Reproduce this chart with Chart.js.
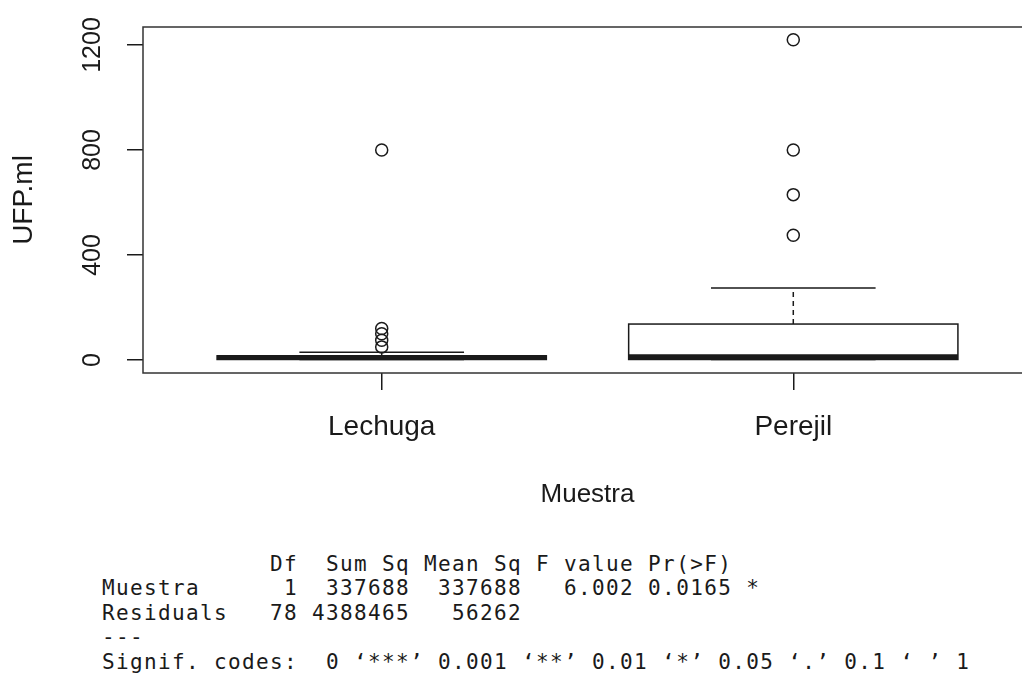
<!DOCTYPE html>
<html>
<head>
<meta charset="utf-8">
<script src="https://cdn.jsdelivr.net/npm/chart.js@4.4.1/dist/chart.umd.min.js"></script>
<style>
  html, body { margin: 0; padding: 0; background: #fff; overflow: hidden; width: 1022px; height: 681px; }
  #wrap { position: absolute; left: 0; top: 0; width: 1040px; height: 530px; }
  #anova {
    position: absolute; left: 102px; top: 552px; margin: 0;
    font-family: "DejaVu Sans Mono", monospace; font-size: 21px;
    letter-spacing: 1.36px; line-height: 24.4px; color: #1a1a1a; white-space: pre;
  }
</style>
</head>
<body>
<div id="wrap"><canvas id="boxChart" width="1040" height="530"></canvas></div>
<pre id="anova"></pre>
<script>
// Datos del boxplot (UFP.ml por muestra)
const categorias = ['Lechuga', 'Perejil'];
const bigoteInf = [2, 2];
const cuartil1 = [2, 2];
const mediana = [10, 12];
const cuartil3 = [16, 137];
const bigoteSup = [30, 274];
const atipicosLechuga = [50, 75, 100, 120, 800];
const atipicosPerejil = [475, 630, 800, 1220];
const ticksY = [0, 200, 400, 600, 800, 1000, 1200];
const etiquetasY = [0, 400, 800, 1200];

// Tabla ANOVA
const filasAnova = [
  '            Df  Sum Sq Mean Sq F value Pr(>F)',
  'Muestra      1  337688  337688   6.002 0.0165 *',
  'Residuals   78 4388465   56262',
  '---',
  'Signif. codes:  0 \u2018***\u2019 0.001 \u2018**\u2019 0.01 \u2018*\u2019 0.05 \u2018.\u2019 0.1 \u2018 \u2019 1'
];
document.getElementById('anova').textContent = filasAnova.join('\n');

const tinta = '#1a1a1a';
Chart.defaults.font.family = '"Liberation Sans", Arial, sans-serif';
Chart.defaults.color = tinta;

// Cajas, bigotes y marco al estilo de R
const cajasPlugin = {
    id: 'cajas',
    beforeDatasetsDraw(chart) {
        const { ctx, scales: { x, y } } = chart;
        ctx.save();
        ctx.strokeStyle = tinta;
        categorias.forEach((cat, i) => {
            const pos = i + 1;
            const xl = x.getPixelForValue(pos - 0.4);
            const xr = x.getPixelForValue(pos + 0.4);
            const xc = x.getPixelForValue(pos);
            const cl = x.getPixelForValue(pos - 0.2);
            const cr = x.getPixelForValue(pos + 0.2);
            const yq1 = y.getPixelForValue(cuartil1[i]);
            const yq3 = y.getPixelForValue(cuartil3[i]);
            const ymed = y.getPixelForValue(mediana[i]);
            const yinf = y.getPixelForValue(bigoteInf[i]);
            const ysup = y.getPixelForValue(bigoteSup[i]);

            // bigotes punteados
            ctx.lineWidth = 1.5;
            ctx.setLineDash([5, 4]);
            ctx.beginPath();
            ctx.moveTo(xc, yq3); ctx.lineTo(xc, ysup);
            ctx.moveTo(xc, yq1); ctx.lineTo(xc, yinf);
            ctx.stroke();
            ctx.setLineDash([]);

            // topes
            ctx.beginPath();
            ctx.moveTo(cl, ysup); ctx.lineTo(cr, ysup);
            ctx.moveTo(cl, yinf); ctx.lineTo(cr, yinf);
            ctx.stroke();

            // caja
            ctx.fillStyle = '#fff';
            ctx.fillRect(xl, yq3, xr - xl, yq1 - yq3);
            ctx.strokeRect(xl, yq3, xr - xl, yq1 - yq3);

            // mediana
            ctx.lineWidth = 5;
            ctx.beginPath();
            ctx.moveTo(xl, ymed); ctx.lineTo(xr, ymed);
            ctx.stroke();
        });
        ctx.restore();
    },
    afterDraw(chart) {
        const { ctx, chartArea: a } = chart;
        ctx.save();
        ctx.strokeStyle = '#333';
        ctx.lineWidth = 1.5;
        ctx.strokeRect(a.left, a.top, a.right - a.left, a.bottom - a.top);
        ctx.restore();
    }
};

const puntos = (pos, valores) => valores.map(v => ({ x: pos, y: v }));

const ctx = document.getElementById('boxChart').getContext('2d');
new Chart(ctx, {
    type: 'scatter',
    data: {
        datasets: [
            { data: puntos(1, atipicosLechuga) },
            { data: puntos(2, atipicosPerejil) }
        ]
    },
    options: {
        responsive: false,
        animation: false,
        layout: { padding: { left: 0, top: 27, right: 8, bottom: 0 } },
        elements: {
            point: { radius: 6, borderWidth: 1.5, borderColor: tinta, backgroundColor: 'rgba(0,0,0,0)' }
        },
        plugins: { legend: { display: false }, tooltip: { enabled: false } },
        scales: {
            x: {
                type: 'linear',
                min: 0.42,
                max: 2.58,
                afterBuildTicks: s => { s.ticks = categorias.map((c, i) => ({ value: i + 1 })); },
                afterFit: s => { s.height = 157; },
                grid: { drawOnChartArea: false, drawTicks: true, tickLength: 17, color: tinta, lineWidth: 1.5 },
                border: { display: false },
                ticks: {
                    callback: v => categorias[v - 1],
                    font: { size: 28 },
                    padding: 20,
                    maxRotation: 0
                },
                title: { display: true, text: 'Muestra', font: { size: 26 }, padding: { top: 0, bottom: 20 } }
            },
            y: {
                min: -49.5,
                max: 1268.6,
                afterBuildTicks: s => { s.ticks = ticksY.map(v => ({ value: v })); },
                afterFit: s => { s.width = 143; },
                grid: { drawOnChartArea: false, drawTicks: true, tickLength: 16, color: tinta, lineWidth: 1.5 },
                border: { display: false },
                ticks: {
                    minRotation: 90,
                    maxRotation: 90,
                    crossAlign: 'center',
                    padding: 6,
                    font: { size: 25 },
                    callback: v => etiquetasY.includes(v) ? String(v) : ''
                },
                title: { display: true, text: 'UFP.ml', font: { size: 28 }, padding: { top: 7, bottom: 0 } }
            }
        }
    },
    plugins: [cajasPlugin]
});
</script>
</body>
</html>
